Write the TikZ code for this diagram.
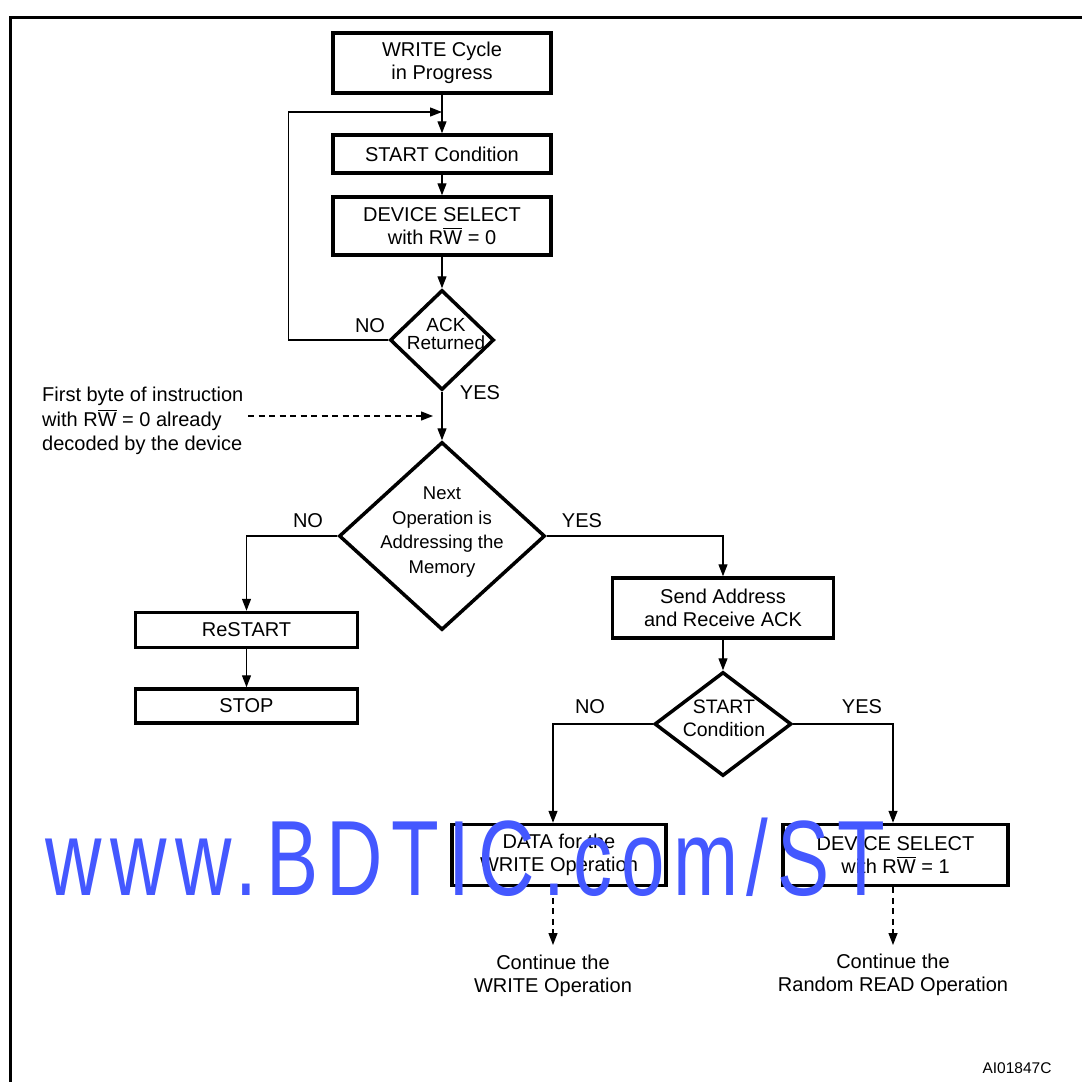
\documentclass[tikz,border=0pt]{standalone}
\usepackage{fontspec}
\setmainfont{Liberation Sans}
\newfontfamily\wmfont[LetterSpace=11]{Liberation Sans}
\usetikzlibrary{arrows.meta,shapes.geometric}
\newcommand\barW{\leavevmode\vbox{\hrule height 1.2pt\kern1.2pt\hbox{W}}}
\definecolor{wm}{RGB}{68,88,255}
\begin{document}
\begin{tikzpicture}[x=1pt,y=-1pt,
  font=\fontsize{20}{23}\selectfont,
  box/.style={draw, line width=3.5pt, fill=white, align=center, inner sep=0pt},
  dia/.style={draw, diamond, line width=3.5pt, fill=white, inner sep=0pt},
  txt/.style={align=center, inner sep=0pt},
  arr/.style={line width=1.3pt, -{Triangle[length=12pt,width=9pt]}},
  darr/.style={arr, dash pattern=on 6pt off 4.5pt}]
\clip (0,0) rectangle (1082,1082);
\useasboundingbox (0,0) rectangle (1082,1082);
\fill[white] (0,0) rectangle (1082,1082);
% frame
\draw[line width=3pt] (10,17) rectangle (1120,1120);

% nodes
\node[box, minimum width=218, minimum height=60] (w1) at (442,63) {WRITE Cycle\\in Progress};
\node[box, minimum width=218, minimum height=38] (s1) at (442,154) {START Condition};
\node[box, minimum width=218, minimum height=58] (d1) at (442,226) {DEVICE SELECT\\with R\barW{} = 0};
\node[dia, minimum width=104, minimum height=100] (ack) at (442,340) {};
\node[txt, font=\fontsize{19}{17.5}\selectfont] (ackt) at (446,334) {ACK\\Returned};
\node[dia, minimum width=206, minimum height=188] (big) at (442,536) {};
\node[txt, font=\fontsize{18.5}{24.5}\selectfont] (bigt) at (442,532) {Next\\Operation is\\Addressing the\\Memory};
\node[box, minimum width=222, minimum height=35] (rs) at (246.5,630) {ReSTART};
\node[box, minimum width=222, minimum height=34] (stop) at (246.5,706) {STOP};
\node[box, minimum width=221, minimum height=60] (send) at (723,608) {Send Address\\and Receive ACK};
\node[dia, minimum width=137, minimum height=104] (sc) at (723,724) {};
\node[txt, font=\fontsize{19.5}{23}\selectfont] (sct) at (724,718) {START\\Condition};
\node[box, minimum width=214, minimum height=61] (data) at (559,855) {DATA for the\\WRITE Operation};
\node[box, minimum width=225, minimum height=61] (ds2) at (895.5,855) {DEVICE SELECT\\with R\barW{} = 1};
\node[txt, anchor=north] (c1) at (553,955) {Continue the\\WRITE Operation};
\node[txt, anchor=north] (c2) at (893,954) {Continue the\\Random READ Operation};
\node[txt, anchor=west, align=left, font=\fontsize{20}{24.5}\selectfont] (note) at (42,421) {First byte of instruction\\with R\barW{} = 0 already\\decoded by the device};

% labels
\node[txt] (l1) at (370,326) {NO};
\node[txt] (l2) at (480,393) {YES};
\node[txt] (l3) at (308,521) {NO};
\node[txt] (l4) at (582,521) {YES};
\node[txt] (l5) at (590,707) {NO};
\node[txt] (l6) at (862,707) {YES};
\node[txt, font=\fontsize{15.5}{17}\selectfont] (ai) at (1017,1068) {AI01847C};

% connectors
\coordinate (j) at (442,112);
\coordinate (ds) at (248,416);
\coordinate (de) at (433,416);
\draw[arr] (w1) -- (s1);
\draw[arr] (ack.west) -- ++(-100,0) |- (j);
\draw[arr] (s1) -- (d1);
\draw[arr] (d1) -- (ack.north);
\draw[arr] (ack.south) -- (big.north);
\draw[darr] (ds) -- (de);
\draw[arr] (big.west) -| (rs.north);
\draw[arr] (rs) -- (stop);
\draw[arr] (big.east) -| (send.north);
\draw[arr] (send.south) -- (sc.north);
\draw[arr] (sc.west) -| ([xshift=-6pt]data.north);
\draw[arr] (sc.east) -| ([xshift=-2.5pt]ds2.north);
\draw[darr] ([xshift=-6pt]data.south) -- ([yshift=10pt]c1.north);
\draw[darr] ([xshift=-2.5pt]ds2.south) -- ([yshift=9pt]c2.north);

% watermark
\node[anchor=base west, inner sep=0pt, text=wm, font=\wmfont\fontsize{107}{107}\selectfont, xscale=0.73] (wmk) at (45,895) {www.BDTIC.com/ST};
\end{tikzpicture}
\end{document}
